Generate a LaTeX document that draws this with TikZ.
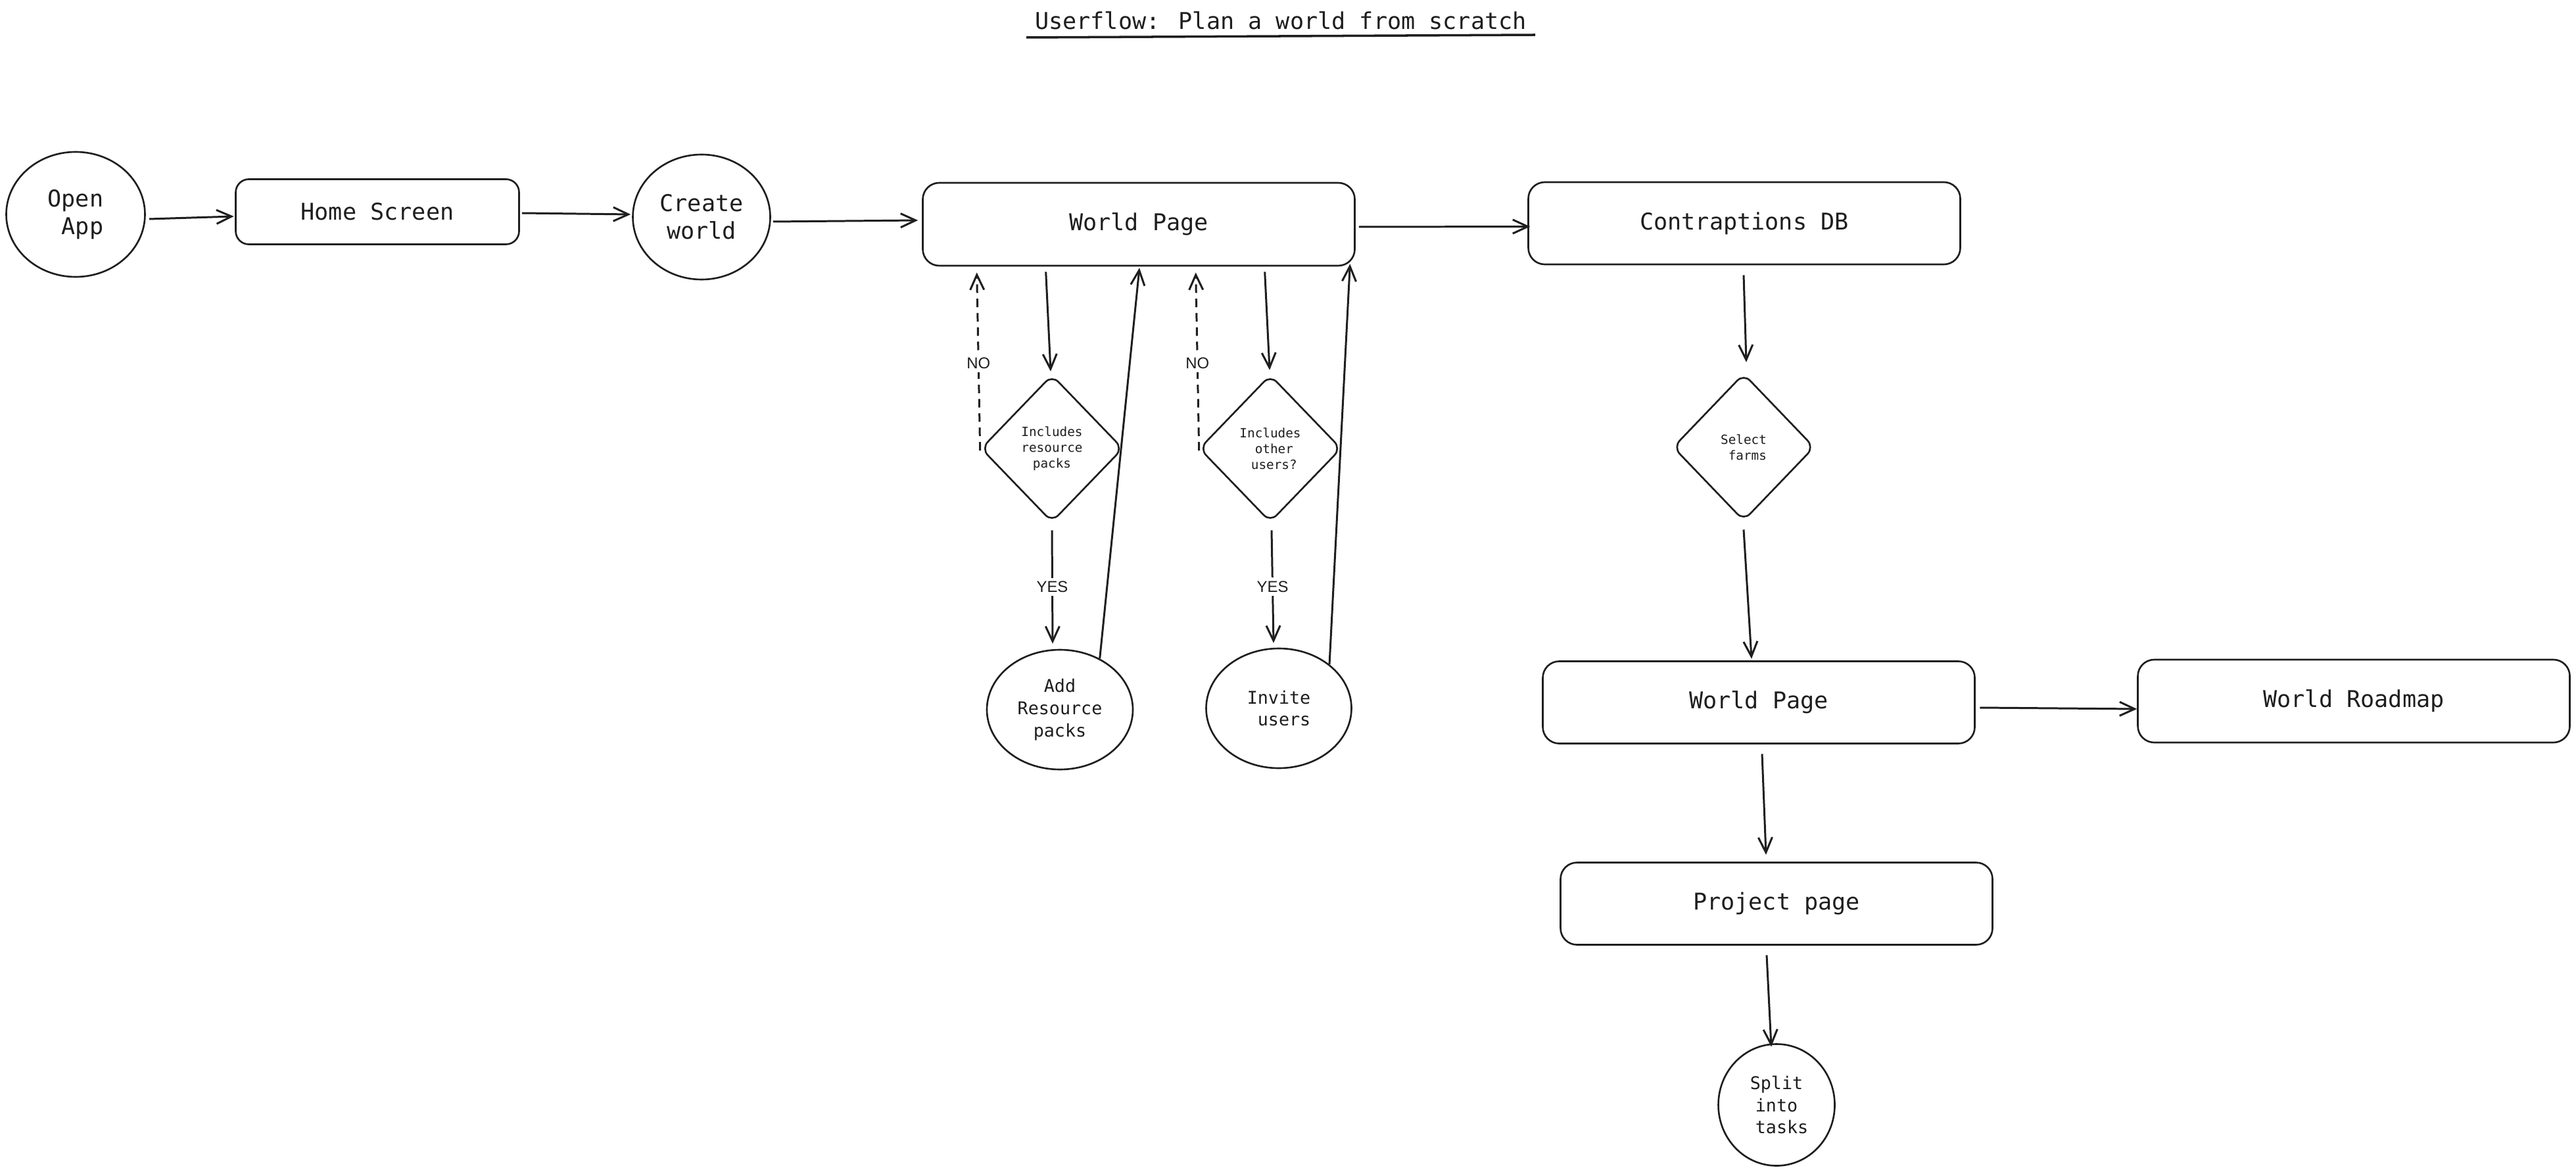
\documentclass[tikz,border=0pt]{standalone}
\usepackage{fontspec}
\usetikzlibrary{shapes.geometric,arrows.meta,calc}
\newfontfamily\monof{DejaVu Sans Mono}
\newfontfamily\labf{Liberation Sans}
\definecolor{ink}{HTML}{1E1E1E}
\tikzset{
  box/.style={draw=ink, rounded corners=0.25cm, minimum width=6.57cm, minimum height=1.26cm, line width=0.75pt, inner sep=0pt, font=\monof\fontsize{10}{12}\selectfont, text=ink},
  circ/.style={draw=ink, ellipse, line width=0.75pt, inner sep=0pt, align=center, text=ink},
  bigtxt/.style={font=\monof\fontsize{10}{12}\selectfont},
  midtxt/.style={font=\monof\fontsize{7.6}{9.6}\selectfont},
  dia/.style={draw=ink, diamond, rounded corners=4pt, line width=0.75pt, inner sep=0pt, align=center, text=ink, font=\monof\fontsize{5.5}{6.8}\selectfont},
  arr/.style={draw=ink, -{Straight Barb[length=6.5pt,width=6pt]}, line width=0.85pt},
  noarr/.style={arr, dash pattern=on 3.7pt off 2.5pt},
  lbl/.style={fill=white, text=ink, inner sep=1.5pt, font=\labf\fontsize{6.8}{8}\selectfont}
}
\begin{document}
\begin{tikzpicture}
\useasboundingbox (0,0) rectangle (39.18,-17.79);
\fill[white] (0,0) rectangle (39.18,-17.79);

% title
\node[anchor=base, text=ink, font=\monof\fontsize{10}{12}\selectfont] (title) at (19.48,-0.45) {Userflow: Plan a world from scratch};
\draw[ink, line width=1pt] (15.61,-0.57) -- (23.35,-0.53);

% nodes
\node[circ, bigtxt, minimum width=2.11cm, minimum height=1.90cm] (openapp) at (1.15,-3.26) {Open\\\phantom{x}App};
\node[box, minimum width=4.31cm, minimum height=0.99cm, rounded corners=0.2cm] (home) at (5.74,-3.22) {Home Screen};
\node[circ, bigtxt, minimum width=2.09cm, minimum height=1.90cm] (create) at (10.67,-3.30) {Create\\world};
\node[box] (wp1) at (17.32,-3.41) {World Page};
\node[box, minimum height=1.25cm] (contr) at (26.53,-3.395) {Contraptions DB};

\node[dia, minimum width=2.16cm, minimum height=2.24cm] (d1) at (16.00,-6.82) {Includes\\resource\\packs};
\node[dia, minimum width=2.16cm, minimum height=2.24cm] (d2) at (19.32,-6.82) {Includes\\\phantom{x}other\\\phantom{x}users?};
\node[circ, midtxt, minimum width=2.22cm, minimum height=1.82cm] (add) at (16.12,-10.79) {Add\\Resource\\packs};
\node[circ, midtxt, minimum width=2.21cm, minimum height=1.82cm] (invite) at (19.45,-10.77) {Invite\\\phantom{x}users};

\node[dia, minimum width=2.15cm, minimum height=2.24cm] (select) at (26.52,-6.80) {Select\\\phantom{x}farms};
\node[box, minimum height=1.25cm] (wp2) at (26.75,-10.68) {World Page};
\node[box] (roadmap) at (35.80,-10.66) {World Roadmap};
\node[box, minimum height=1.25cm] (project) at (27.02,-13.74) {Project page};
\node[circ, midtxt, minimum width=1.77cm, minimum height=1.85cm] (split) at (27.02,-16.80) {Split\\into\\\phantom{x}tasks};

% connectors, top row
\draw[arr] ([xshift=0.05cm,yshift=-0.07cm]openapp.east) -- ([xshift=-0.015cm,yshift=-0.07cm]home.west);
\draw[arr] ([xshift=0.03cm,yshift=-0.02cm]home.east) -- ([xshift=-0.02cm,yshift=0.04cm]create.west);
\draw[arr] ([xshift=0.03cm,yshift=-0.07cm]create.east) -- ([xshift=-0.06cm,yshift=0.06cm]wp1.west);
\draw[arr] ([xshift=0.05cm,yshift=-0.04cm]wp1.east) -- ([xshift=0.04cm,yshift=-0.05cm]contr.west);

% resource packs branch
\draw[arr] ([xshift=1.885cm,yshift=-0.08cm]wp1.south west) -- ([xshift=-0.02cm,yshift=0.04cm]d1.north);
\draw[arr] ([yshift=-0.11cm]d1.south) -- node[lbl]{YES} ([xshift=-0.11cm,yshift=0.08cm]add.north);
\draw[arr] (add.52) -- ([xshift=0.01cm,yshift=-0.02cm]wp1.south);
\draw[noarr] ([xshift=0cm,yshift=-0.03cm]d1.west) -- node[lbl, pos=0.49]{NO} ([xshift=0.835cm,yshift=-0.09cm]wp1.south west);

% other users branch
\draw[arr] ([xshift=5.215cm,yshift=-0.08cm]wp1.south west) -- ([xshift=-0.01cm,yshift=0.06cm]d2.north);
\draw[arr] ([xshift=0.02cm,yshift=-0.11cm]d2.south) -- node[lbl]{YES} ([xshift=-0.08cm,yshift=0.07cm]invite.north);
\draw[arr] (invite.41) -- ([xshift=-0.085cm,yshift=0.04cm]wp1.south east);
\draw[noarr] ([xshift=0.01cm,yshift=-0.03cm]d2.west) -- node[lbl, pos=0.49]{NO} ([xshift=4.165cm,yshift=-0.09cm]wp1.south west);

% right column
\draw[arr] ([xshift=-0.01cm,yshift=-0.15cm]contr.south) -- ([xshift=0.04cm,yshift=0.16cm]select.north);
\draw[arr] ([yshift=-0.12cm]select.south) -- ([xshift=-0.11cm,yshift=0.025cm]wp2.north);
\draw[arr] ([xshift=0.065cm,yshift=-0.08cm]wp2.east) -- ([yshift=-0.12cm]roadmap.west);
\draw[arr] ([xshift=0.05cm,yshift=-0.145cm]wp2.south) -- ([xshift=-0.16cm,yshift=0.105cm]project.north);
\draw[arr] ([xshift=-0.15cm,yshift=-0.145cm]project.south) -- ([xshift=-0.08cm,yshift=-0.055cm]split.north);
\end{tikzpicture}
\end{document}
